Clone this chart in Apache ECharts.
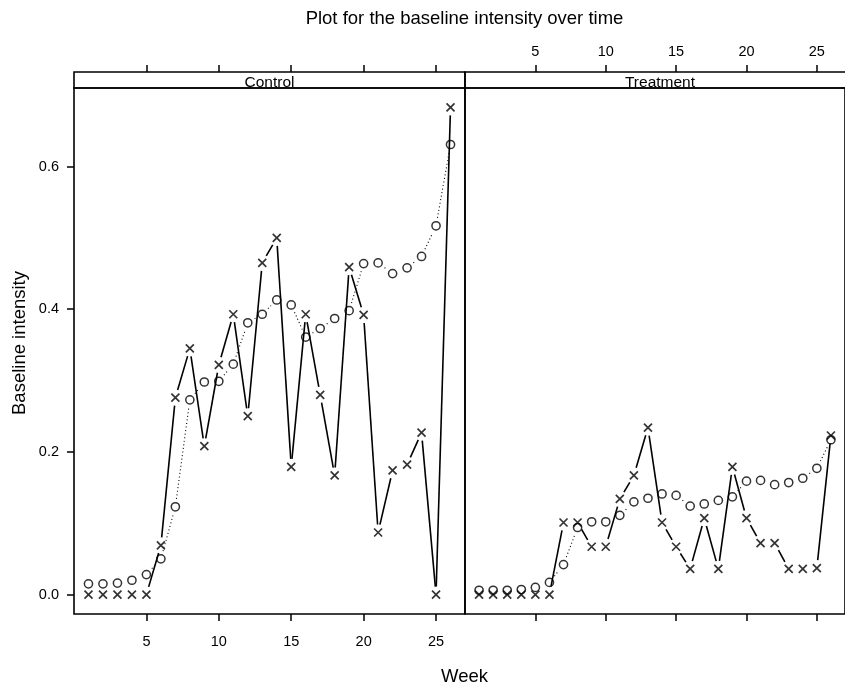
<!DOCTYPE html>
<html>
<head>
<meta charset="utf-8">
<script src="https://cdn.jsdelivr.net/npm/echarts@6/dist/echarts.min.js"></script>
<style>html,body{margin:0;padding:0;background:#fff;}#c{width:845px;height:687px;}</style>
</head>
<body>
<div id="c"></div>
<script>
const weeks = [1,2,3,4,5,6,7,8,9,10,11,12,13,14,15,16,17,18,19,20,21,22,23,24,25,26];
const ctrlCircle = [0.015,0.015,0.016,0.020,0.028,0.050,0.123,0.273,0.298,0.299,0.323,0.381,0.393,0.413,0.406,0.361,0.373,0.387,0.398,0.464,0.465,0.450,0.458,0.474,0.517,0.631];
const ctrlCross  = [0,0,0,0,0,0.069,0.276,0.345,0.208,0.322,0.393,0.250,0.465,0.500,0.179,0.393,0.280,0.167,0.459,0.392,0.087,0.174,0.182,0.227,0,0.683];
const trtCircle  = [0.006,0.006,0.006,0.007,0.010,0.017,0.042,0.094,0.102,0.102,0.111,0.130,0.135,0.141,0.139,0.124,0.127,0.132,0.137,0.159,0.160,0.154,0.157,0.163,0.177,0.217];
const trtCross   = [0,0,0,0,0,0,0.101,0.101,0.067,0.067,0.134,0.167,0.234,0.101,0.067,0.036,0.107,0.036,0.179,0.107,0.072,0.072,0.036,0.036,0.037,0.223];
const panels = ['Control','Treatment'];
const xTicks = [5,10,15,20,25];
const yTicks = [0,0.2,0.4,0.6];
const titleText = 'Plot for the baseline intensity over time';
const xLabel = 'Week';
const yLabel = 'Baseline intensity';

const FONT = 'Liberation Sans, Arial, Helvetica, sans-serif';
const GAP = 8;
const X0 = 74, XMID = 465, XEND = 855, TOP = 88, BOT = 614, STRIP = 16;
const YMIN = -0.0273, YMAX = 0.7102, XMIN = 0, XMAX = 27;

function pts(vals){ return weeks.map((w,i)=>[w, vals[i]]); }
function segs(vals){ const s=[]; for(let i=0;i<weeks.length-1;i++){ s.push([weeks[i], vals[i], weeks[i+1], vals[i+1]]); } return s; }
function segRenderer(style){
  return function(params, api){
    const a = api.coord([api.value(0), api.value(1)]);
    const b = api.coord([api.value(2), api.value(3)]);
    const dx=b[0]-a[0], dy=b[1]-a[1]; const L=Math.hypot(dx,dy);
    if (L <= 2*GAP + 0.5) return null;
    const ux=dx/L, uy=dy/L;
    return {type:'line', shape:{x1:a[0]+ux*GAP, y1:a[1]+uy*GAP, x2:b[0]-ux*GAP, y2:b[1]-uy*GAP}, style:style};
  };
}
const solidStyle = {stroke:'#000', lineWidth:1.6};
const dotStyle = {stroke:'#000', lineWidth:1.1, lineDash:[1,2.6]};
const crossPath = 'path://M0,0L10,10M10,0L0,10';

function xAxisDef(gi, pos, showLabel, offset){
  return {type:'value', gridIndex:gi, position:pos, offset:offset||0, min:XMIN, max:XMAX,
    axisLine:{show:false, onZero:false}, splitLine:{show:false},
    axisTick:{show:true, customValues:xTicks, length:7, inside:false, lineStyle:{color:'#000', width:1.5}},
    axisLabel:{show:showLabel, customValues:xTicks, color:'#000', fontSize:14.5, fontFamily:FONT, margin: pos==='top'?13:20}};
}
function yAxisDef(gi, pos, show){
  return {type:'value', gridIndex:gi, position:pos, min:YMIN, max:YMAX,
    axisLine:{show:false, onZero:false}, splitLine:{show:false},
    axisTick:{show:show, customValues:yTicks, length:7, lineStyle:{color:'#000', width:1.5}},
    axisLabel:{show:show, customValues:yTicks, color:'#000', fontSize:14.5, fontFamily:FONT, margin:15, formatter:v=>v.toFixed(1)}};
}

const series = [];
[[ctrlCircle, ctrlCross],[trtCircle, trtCross]].forEach((pair, gi)=>{
  series.push({type:'custom', xAxisIndex:gi*2, yAxisIndex:gi*2, data:segs(pair[0]), renderItem:segRenderer(dotStyle), silent:true, z:2});
  series.push({type:'custom', xAxisIndex:gi*2, yAxisIndex:gi*2, data:segs(pair[1]), renderItem:segRenderer(solidStyle), silent:true, z:2});
  series.push({type:'scatter', xAxisIndex:gi*2, yAxisIndex:gi*2, data:pts(pair[0]), symbol:'circle', symbolSize:8.2,
    itemStyle:{color:'rgba(0,0,0,0)', borderColor:'#000', borderWidth:1.5}, silent:true, z:3});
  series.push({type:'scatter', xAxisIndex:gi*2, yAxisIndex:gi*2, data:pts(pair[1]), symbol:crossPath, symbolSize:8,
    itemStyle:{color:'rgba(0,0,0,0)', borderColor:'#000', borderWidth:1.7}, silent:true, z:3});
});

const graphics = [
  {type:'text', style:{text:titleText, x:(X0+XEND)/2, y:18.5, font:'18.5px '+FONT, fill:'#000', align:'center', verticalAlign:'middle', textAlign:'center', textVerticalAlign:'middle'}, z:10},
  {type:'text', style:{text:xLabel, x:(X0+XEND)/2, y:677, font:'18.5px '+FONT, fill:'#000', align:'center', verticalAlign:'middle', textAlign:'center', textVerticalAlign:'middle'}, z:10},
  {type:'text', rotation:Math.PI/2, x:20, y:(TOP-STRIP+BOT)/2, style:{text:yLabel, x:0, y:0, font:'18.5px '+FONT, fill:'#000', align:'center', verticalAlign:'middle', textAlign:'center', textVerticalAlign:'middle'}, z:10},
];
const panelX = [[X0, XMID],[XMID, XEND]];
panels.forEach((p, i)=>{
  const [a,b] = panelX[i];
  graphics.push({type:'rect', shape:{x:a, y:TOP-STRIP, width:b-a, height:STRIP}, style:{fill:'none', stroke:'#000', lineWidth:1.6}, z:5});
  graphics.push({type:'text', style:{text:p, x:(a+b)/2, y:TOP-STRIP/2+2.5, font:'15.5px '+FONT, fill:'#000', align:'center', verticalAlign:'middle', textAlign:'center', textVerticalAlign:'middle'}, z:4});
});

const option = {
  backgroundColor:'#fff',
  animation:false,
  grid:[
    {left:X0, top:TOP, width:XMID-X0, height:BOT-TOP, show:true, borderColor:'#000', borderWidth:1.6, backgroundColor:'transparent'},
    {left:XMID, top:TOP, width:XEND-XMID, height:BOT-TOP, show:true, borderColor:'#000', borderWidth:1.6, backgroundColor:'transparent'}
  ],
  xAxis:[
    xAxisDef(0,'bottom',true),
    xAxisDef(0,'top',false,STRIP),
    xAxisDef(1,'bottom',false),
    xAxisDef(1,'top',true,STRIP)
  ],
  yAxis:[
    yAxisDef(0,'left',true),
    yAxisDef(0,'right',false),
    yAxisDef(1,'left',false),
    yAxisDef(1,'right',false)
  ],
  series:series,
  graphic:graphics
};
const chart = echarts.init(document.getElementById('c'), null, {renderer:'canvas'});
chart.setOption(option);
</script>
</body>
</html>
